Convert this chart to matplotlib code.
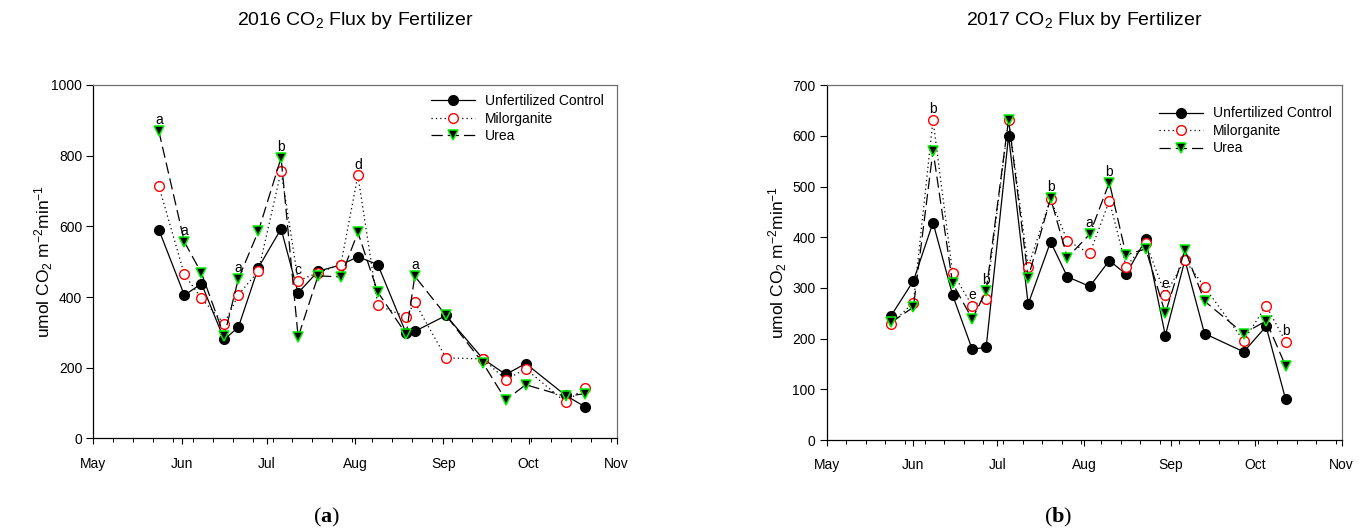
import numpy as np
import matplotlib
matplotlib.use("Agg")
import matplotlib.pyplot as plt
import matplotlib.dates as mdates

plt.rcParams['font.family'] = ['Liberation Sans', 'DejaVu Sans']
plt.rcParams['mathtext.fontset'] = 'custom'
plt.rcParams['mathtext.rm'] = 'Liberation Sans'
plt.rcParams['mathtext.bf'] = 'Liberation Serif:bold'
plt.rcParams['mathtext.default'] = 'regular'

# 2016 sampling dates and flux values (umol CO2 m-2 min-1)
dates_2016 = ['2016-05-24', '2016-06-02', '2016-06-08', '2016-06-16', '2016-06-21',
              '2016-06-28', '2016-07-06', '2016-07-12', '2016-07-19', '2016-07-27',
              '2016-08-02', '2016-08-09', '2016-08-19', '2016-08-22', '2016-09-02',
              '2016-09-15', '2016-09-23', '2016-09-30', '2016-10-14', '2016-10-21']
control_2016 = [591, 405, 438, 280, 315, 483, 593, 412, 473, 491,
                514, 492, 297, 303, 348, 225, 181, 212, 122, 89]
milorganite_2016 = [714, 464, 396, 325, 407, 473, 756, 446, 469, 492,
                    744, 377, 344, 385, 228, 225, 166, 197, 103, 144]
urea_2016 = [870, 556, 468, 290, 452, 586, 794, 287, 460, 457,
             583, 414, 295, 459, 348, 213, 109, 152, 119, 127]
# significance letters: (series, date, letter)
letters_2016 = [('urea', '2016-05-24', 'a'), ('urea', '2016-06-02', 'a'),
                ('urea', '2016-06-21', 'a'), ('urea', '2016-07-06', 'b'),
                ('milorganite', '2016-07-12', 'c'), ('milorganite', '2016-08-02', 'd'),
                ('urea', '2016-08-22', 'a')]

# 2017 sampling dates and flux values
dates_2017 = ['2017-05-24', '2017-06-01', '2017-06-08', '2017-06-15', '2017-06-22',
              '2017-06-27', '2017-07-05', '2017-07-12', '2017-07-20', '2017-07-26',
              '2017-08-03', '2017-08-10', '2017-08-16', '2017-08-23', '2017-08-30',
              '2017-09-06', '2017-09-13', '2017-09-27', '2017-10-05', '2017-10-12']
control_2017 = [245, 314, 429, 286, 179, 183, 600, 268, 391, 322,
                303, 354, 327, 396, 206, 355, 210, 174, 224, 80]
milorganite_2017 = [229, 271, 631, 330, 265, 279, 632, 342, 475, 393,
                    368, 472, 342, 389, 287, 355, 302, 196, 265, 194]
urea_2017 = [232, 262, 571, 309, 239, 294, 632, 320, 477, 360,
             406, 508, 365, 377, 250, 375, 274, 210, 235, 146]
letters_2017 = [('milorganite', '2017-06-08', 'b'), ('milorganite', '2017-06-22', 'e'),
                ('urea', '2017-06-27', 'b'), ('urea', '2017-07-20', 'b'),
                ('urea', '2017-08-03', 'a'), ('urea', '2017-08-10', 'b'),
                ('milorganite', '2017-08-30', 'e'), ('milorganite', '2017-10-12', 'b')]


def draw_panel(ax, year, dates, control, milorg, urea, letters, ymax, ystep, legend_y):
    x = np.array(dates, dtype='datetime64[D]')
    series = {'control': control, 'milorganite': milorg, 'urea': urea}

    ax.plot(x, control, color='black', lw=0.9, marker='o', ms=7,
            mfc='black', mec='black', label='Unfertilized Control')
    ax.plot(x, milorg, color='black', lw=0.9, ls=(0, (1, 2.5)), marker='o', ms=7,
            mfc='white', mec='red', mew=1.0, label='Milorganite')
    ax.plot(x, urea, color='black', lw=0.9, ls=(0, (9, 4)), marker='v', ms=7.5,
            mfc='black', mec='#00ee00', mew=1.1, label='Urea')

    for name, d, letter in letters:
        i = dates.index(d)
        ax.annotate(letter, (x[i], series[name][i]), xytext=(0, 5),
                    textcoords='offset points', ha='center', va='baseline', fontsize=10)

    start = np.datetime64(f'{year}-05-01')
    end = np.datetime64(f'{year}-11-01')
    ax.set_xlim(start, end)
    ax.set_ylim(0, ymax)
    ax.set_yticks(np.arange(0, ymax + 1, ystep))

    ax.xaxis.set_major_locator(mdates.MonthLocator())
    ax.xaxis.set_major_formatter(mdates.DateFormatter('%b'))
    ax.set_xticks(np.arange(start, end, np.timedelta64(7, 'D')), minor=True)

    ax.tick_params(axis='y', direction='out', length=5, width=0.8, labelsize=10, pad=3)
    ax.tick_params(axis='x', which='major', direction='out', length=4, width=0.8,
                   labelsize=10, pad=9)
    ax.tick_params(axis='x', which='minor', direction='out', length=3, width=0.7)

    for s in ['left', 'bottom']:
        ax.spines[s].set_color('black')
        ax.spines[s].set_linewidth(0.9)
    for s in ['top', 'right']:
        ax.spines[s].set_color('#707070')
        ax.spines[s].set_linewidth(0.9)

    ax.set_ylabel('umol CO$_2$ m$^{-2}$min$^{-1}$', fontsize=12.5)
    ax.yaxis.set_label_coords(-0.074, 0.5)
    ax.set_title(f'{year} CO$_2$ Flux by Fertilizer', fontsize=14, pad=43)

    ax.legend(loc='upper left', bbox_to_anchor=(0.645, legend_y), frameon=False,
              fontsize=10, handlelength=3.2, handletextpad=0.7, labelspacing=0.25,
              borderpad=0, borderaxespad=0)


fig = plt.figure(figsize=(13.65, 5.32), dpi=100)
ax1 = fig.add_axes([0.0684, 0.1758, 0.3834, 0.6645])
ax2 = fig.add_axes([0.6056, 0.1729, 0.3773, 0.6670])

draw_panel(ax1, 2016, dates_2016, control_2016, milorganite_2016, urea_2016,
           letters_2016, 1000, 200, 0.974)
draw_panel(ax2, 2017, dates_2017, control_2017, milorganite_2017, urea_2017,
           letters_2017, 700, 100, 0.94)

fig.text(327 / 1365, 1 - 517 / 532, r'($\mathbf{a}$)', ha='center', va='center',
         fontsize=16, family='Liberation Serif')
fig.text(1058 / 1365, 1 - 517 / 532, r'($\mathbf{b}$)', ha='center', va='center',
         fontsize=16, family='Liberation Serif')

fig.savefig('out.png', dpi=100)
